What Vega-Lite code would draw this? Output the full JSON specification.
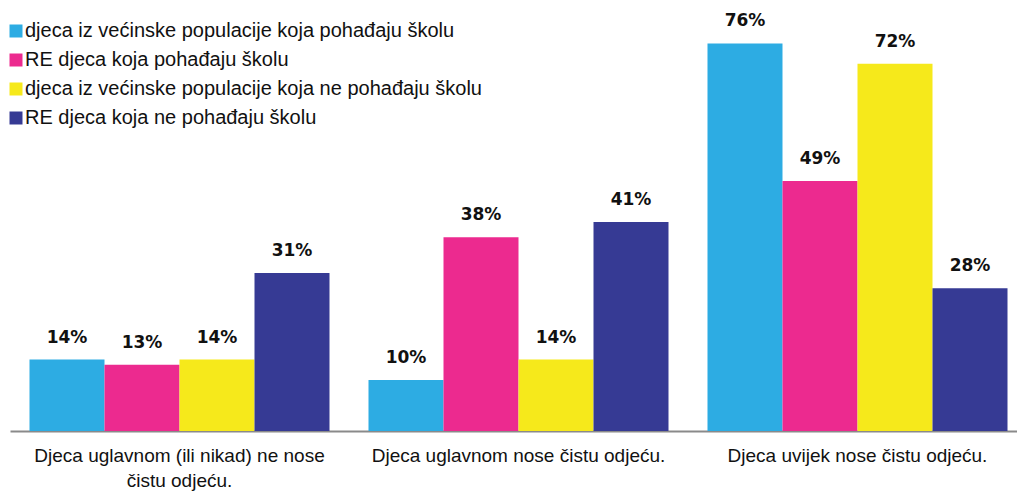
{
  "$schema": "https://vega.github.io/schema/vega-lite/v6.json",
  "autosize": "none",
  "width": 1017,
  "height": 408,
  "padding": {"left": 10, "top": 23, "right": 0, "bottom": 60},
  "background": "white",
  "config": {"view": {"stroke": null}, "font": "Liberation Sans"},
  "data": {"values": [
    {"kat": "Djeca uglavnom (ili nikad) ne nose čistu odjeću.", "grupa": "djeca iz većinske populacije koja pohađaju školu", "v": 14},
    {"kat": "Djeca uglavnom (ili nikad) ne nose čistu odjeću.", "grupa": "RE djeca koja pohađaju školu", "v": 13},
    {"kat": "Djeca uglavnom (ili nikad) ne nose čistu odjeću.", "grupa": "djeca iz većinske populacije koja ne pohađaju školu", "v": 14},
    {"kat": "Djeca uglavnom (ili nikad) ne nose čistu odjeću.", "grupa": "RE djeca koja ne pohađaju školu", "v": 31},
    {"kat": "Djeca uglavnom nose čistu odjeću.", "grupa": "djeca iz većinske populacije koja pohađaju školu", "v": 10},
    {"kat": "Djeca uglavnom nose čistu odjeću.", "grupa": "RE djeca koja pohađaju školu", "v": 38},
    {"kat": "Djeca uglavnom nose čistu odjeću.", "grupa": "djeca iz većinske populacije koja ne pohađaju školu", "v": 14},
    {"kat": "Djeca uglavnom nose čistu odjeću.", "grupa": "RE djeca koja ne pohađaju školu", "v": 41},
    {"kat": "Djeca uvijek nose čistu odjeću.", "grupa": "djeca iz većinske populacije koja pohađaju školu", "v": 76},
    {"kat": "Djeca uvijek nose čistu odjeću.", "grupa": "RE djeca koja pohađaju školu", "v": 49},
    {"kat": "Djeca uvijek nose čistu odjeću.", "grupa": "djeca iz većinske populacije koja ne pohađaju školu", "v": 72},
    {"kat": "Djeca uvijek nose čistu odjeću.", "grupa": "RE djeca koja ne pohađaju školu", "v": 28}
  ]},
  "encoding": {
    "x": {
      "field": "kat", "type": "nominal", "sort": null,
      "scale": {"paddingInner": 0.115, "paddingOuter": 0.0575},
      "axis": {
        "title": null, "labelAngle": 0, "ticks": false,
        "domainColor": "#8a8a8a", "domainWidth": 2,
        "labelFontSize": 19, "labelColor": "#111", "labelPadding": 15,
        "labelLineHeight": 25, "labelLimit": 400,
        "labelExpr": "datum.label == 'Djeca uglavnom (ili nikad) ne nose čistu odjeću.' ? ['Djeca uglavnom (ili nikad) ne nose', 'čistu odjeću.'] : datum.label"
      }
    },
    "xOffset": {
      "field": "grupa", "type": "nominal", "sort": null,
      "scale": {"domain": ["djeca iz većinske populacije koja pohađaju školu", "RE djeca koja pohađaju školu", "djeca iz većinske populacije koja ne pohađaju školu", "RE djeca koja ne pohađaju školu"], "paddingInner": 0, "paddingOuter": 0}
    },
    "y": {
      "field": "v", "type": "quantitative",
      "scale": {"domain": [0, 80]},
      "axis": null
    }
  },
  "layer": [
    {
      "mark": {"type": "bar"},
      "encoding": {
        "color": {
          "field": "grupa", "type": "nominal",
          "scale": {
            "domain": ["djeca iz većinske populacije koja pohađaju školu", "RE djeca koja pohađaju školu", "djeca iz većinske populacije koja ne pohađaju školu", "RE djeca koja ne pohađaju školu"],
            "range": ["#2DACE3", "#EC2A8F", "#F6E91B", "#363A94"]
          },
          "legend": {
            "orient": "none", "legendX": -4, "legendY": -2,
            "title": null, "symbolType": "square", "symbolSize": 169,
            "symbolStrokeWidth": 0, "symbolOpacity": 1,
            "labelFontSize": 20, "labelColor": "#111", "labelOffset": -1,
            "rowPadding": 9, "labelLimit": 600
          }
        }
      }
    },
    {
      "mark": {"type": "text", "baseline": "bottom", "dy": -13, "fontSize": 17, "font": "DejaVu Sans", "fontWeight": "bold", "color": "#111", "text": {"expr": "datum.v + '%'"}},
      "encoding": {
        "detail": {"field": "grupa"}
      }
    }
  ]
}
